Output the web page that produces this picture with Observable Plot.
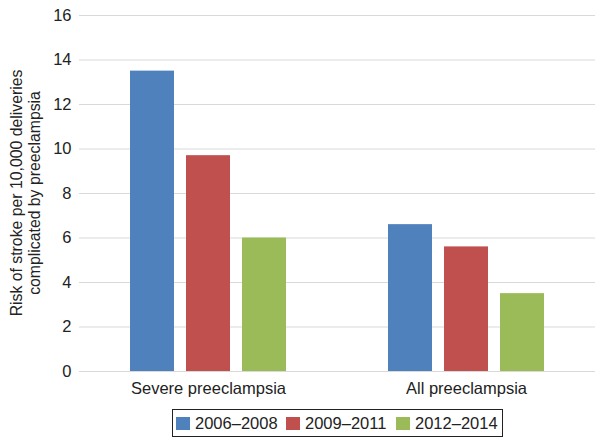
<!DOCTYPE html>
<html>
<head>
<meta charset="utf-8">
<script src="https://cdn.jsdelivr.net/npm/d3@7"></script>
<script src="https://cdn.jsdelivr.net/npm/@observablehq/plot@0.6"></script>
<style>
  body { margin: 0; background: #fff; font-family: "Liberation Sans", Arial, sans-serif; }
  #wrap { position: relative; width: 604px; height: 446px; }
  .legend { position: absolute; left: 172px; top: 409px; width: 329px; height: 26px; border: 1px solid #222;
    font-size: 16.5px; color: #222; box-sizing: content-box; }
  .legend .item { position: absolute; top: 0; height: 26px; display: flex; align-items: center; }
  .legend .sw { width: 14px; height: 13px; margin-right: 5px; }
</style>
</head>
<body>
<div id="wrap"></div>
<script>
const groups = ["Severe preeclampsia", "All preeclampsia"];
const periods = ["2006–2008", "2009–2011", "2012–2014"];
const colors = ["#4f81bd", "#c0504d", "#9bbb59"];
const severeValues = [13.5, 9.7, 6.0];
const allValues = [6.6, 5.6, 3.5];
const yTicks = [0, 2, 4, 6, 8, 10, 12, 14, 16];
const yLabelLines = ["Risk of stroke per 10,000 deliveries", "complicated by preeclampsia"];

const data = [];
periods.forEach((p, i) => data.push({group: groups[0], period: p, value: severeValues[i]}));
periods.forEach((p, i) => data.push({group: groups[1], period: p, value: allValues[i]}));

const plot = Plot.plot({
  width: 604,
  height: 400,
  marginLeft: 78,
  marginRight: 9,
  marginTop: 15,
  marginBottom: 29,
  style: {fontFamily: "Liberation Sans, Arial, sans-serif", fontSize: "16.5px", color: "#222", background: "#fff"},
  fx: {domain: groups, padding: 0, label: null, axis: "bottom", tickSize: 0, tickPadding: 11},
  x: {domain: periods, paddingInner: 0.21, paddingOuter: 0.87, axis: null},
  y: {domain: [0, 16], ticks: yTicks, label: null, tickSize: 0, tickPadding: 8},
  color: {domain: periods, range: colors},
  marks: [
    Plot.gridY(yTicks, {stroke: "#d9d9d9", strokeOpacity: 1, strokeWidth: 1}),
    Plot.barY(data, {fx: "group", x: "period", y: "value", fill: "period"}),
    Plot.ruleY([0], {stroke: "#d9d9d9"})
  ]
});
const wrap = document.getElementById("wrap");
wrap.appendChild(plot);

// y-axis title
const svg = d3.select(plot);
const cy = (15 + 371) / 2;
const t = svg.append("text")
  .attr("transform", `translate(16, ${cy}) rotate(-90)`)
  .attr("text-anchor", "middle")
  .style("font-size", "15.8px")
  .style("font-family", "Liberation Sans, Arial, sans-serif")
  .attr("fill", "#222");
yLabelLines.forEach((line, i) => {
  t.append("tspan").attr("x", 0).attr("dy", i === 0 ? "0.35em" : "1.2em").text(line);
});

// legend
const legend = document.createElement("div");
legend.className = "legend";
const itemLeft = [3, 113, 223];
periods.forEach((p, i) => {
  const item = document.createElement("div");
  item.className = "item";
  item.style.left = itemLeft[i] + "px";
  const sw = document.createElement("span");
  sw.className = "sw";
  sw.style.background = colors[i];
  const lab = document.createElement("span");
  lab.textContent = p;
  item.appendChild(sw);
  item.appendChild(lab);
  legend.appendChild(item);
});
wrap.appendChild(legend);
</script>
</body>
</html>
